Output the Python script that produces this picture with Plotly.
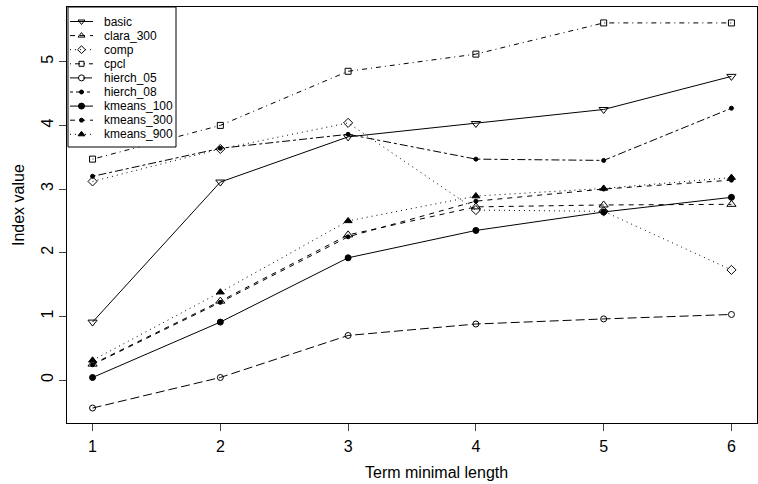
import plotly.graph_objects as go

x_vals = [1, 2, 3, 4, 5, 6]
basic = [0.91, 3.11, 3.82, 4.03, 4.25, 4.77]
clara_300 = [0.25, 1.24, 2.28, 2.72, 2.75, 2.76]
comp = [3.12, 3.63, 4.04, 2.67, 2.65, 1.73]
cpcl = [3.47, 4.00, 4.85, 5.12, 5.61, 5.61]
hierch_05 = [-0.44, 0.04, 0.70, 0.88, 0.96, 1.03]
hierch_08 = [3.20, 3.64, 3.86, 3.47, 3.45, 4.27]
kmeans_100 = [0.04, 0.91, 1.92, 2.35, 2.64, 2.87]
kmeans_300 = [0.24, 1.22, 2.25, 2.81, 3.00, 3.14]
kmeans_900 = [0.31, 1.38, 2.50, 2.89, 3.01, 3.18]
y_ticks = [0, 1, 2, 3, 4, 5]
x_title = "Term minimal length"
y_title = "Index value"

# name, values, dash, symbol, plot marker size, legend marker size
series = [
    ("basic", basic, "solid", "triangle-down-open", 8, 6),
    ("clara_300", clara_300, "5px,5px", "triangle-up-open", 8, 6),
    ("comp", comp, "1px,4px", "diamond-open", 7, 6),
    ("cpcl", cpcl, "1px,4px,5px,4px", "square-open", 6, 5),
    ("hierch_05", hierch_05, "9px,4px", "circle-open", 6, 6),
    ("hierch_08", hierch_08, "3px,3px,8px,3px", "circle", 4, 4),
    ("kmeans_100", kmeans_100, "solid", "circle", 6, 6),
    ("kmeans_300", kmeans_300, "5px,5px", "circle", 4, 4),
    ("kmeans_900", kmeans_900, "1px,4px", "triangle-up", 7, 6),
]

fig = go.Figure()
for name, ys, dash, sym, sz, _ in series:
    fig.add_trace(go.Scatter(
        x=x_vals, y=ys, name=name, mode="lines+markers", showlegend=False,
        line=dict(color="black", width=1, dash=dash),
        marker=dict(symbol=sym, size=sz, color="black",
                    line=dict(color="black", width=1)),
        xaxis="x", yaxis="y",
    ))

# ---- legend drawn in a pixel-space overlay subplot ----
L_LEFT, L_RIGHT, L_TOP, L_BOTTOM = 68, 176, 7, 147
ROW0, ROW_STEP = 21.5, 14.1
SEG_X0, SEG_X1, MARK_X, TEXT_X = 70, 93, 81.5, 102

fig.add_trace(go.Scatter(
    x=[L_LEFT, L_RIGHT, L_RIGHT, L_LEFT, L_LEFT],
    y=[L_TOP, L_TOP, L_BOTTOM, L_BOTTOM, L_TOP],
    mode="lines", fill="toself", fillcolor="white",
    line=dict(color="black", width=1), showlegend=False, hoverinfo="skip",
    xaxis="x2", yaxis="y2",
))
font = "Liberation Sans, Arial, Helvetica, sans-serif"
for i, (name, ys, dash, sym, _, lsz) in enumerate(series):
    yy = ROW0 + ROW_STEP * i
    fig.add_trace(go.Scatter(
        x=[SEG_X0, SEG_X1], y=[yy, yy], mode="lines", showlegend=False,
        line=dict(color="black", width=1, dash=dash), hoverinfo="skip",
        xaxis="x2", yaxis="y2",
    ))
    fig.add_trace(go.Scatter(
        x=[MARK_X], y=[yy], mode="markers", showlegend=False,
        marker=dict(symbol=sym, size=lsz, color="black",
                    line=dict(color="black", width=1)),
        hoverinfo="skip", xaxis="x2", yaxis="y2",
    ))
    fig.add_annotation(x=TEXT_X, y=yy, xref="x2", yref="y2", text=name,
                       showarrow=False, xanchor="left", yanchor="middle",
                       font=dict(size=12, family=font, color="black"))

# axis titles
fig.add_annotation(x=0.536, y=-0.12, xref="paper", yref="paper", text=x_title,
                   showarrow=False, xanchor="center", yanchor="middle",
                   font=dict(size=16, family=font, color="black"))
fig.add_annotation(x=-0.071, y=0.524, xref="paper", yref="paper", text=y_title,
                   showarrow=False, xanchor="center", yanchor="middle",
                   textangle=-90, font=dict(size=16, family=font, color="black"))

fig.update_layout(
    width=758, height=484,
    margin=dict(l=67, r=1, t=7, b=61),
    plot_bgcolor="white", paper_bgcolor="white",
    font=dict(family=font, size=16, color="black"),
    showlegend=False,
    xaxis=dict(range=[0.8, 6.2], tickvals=x_vals, ticks="outside", ticklen=7,
               showgrid=False, zeroline=False, showline=True, linecolor="black",
               mirror=True, linewidth=1, automargin=False, ticklabelstandoff=2,
               tickfont=dict(size=16)),
    yaxis=dict(range=[-0.675, 5.86], tickvals=y_ticks, ticks="outside",
               ticklen=7, tickangle=-90, showgrid=False, zeroline=False,
               showline=True, linecolor="black", mirror=True, linewidth=1,
               automargin=False, ticklabelstandoff=0,
               tickfont=dict(size=16)),
    xaxis2=dict(overlaying="x", range=[67, 757], visible=False, anchor="y2",
                fixedrange=True),
    yaxis2=dict(overlaying="y", range=[423, 7], visible=False, anchor="x2",
                fixedrange=True),
)

fig.write_html("out.html", config={"displayModeBar": False},
               post_script="document.body.style.margin='0px';"
                           "document.body.style.overflow='hidden';")
